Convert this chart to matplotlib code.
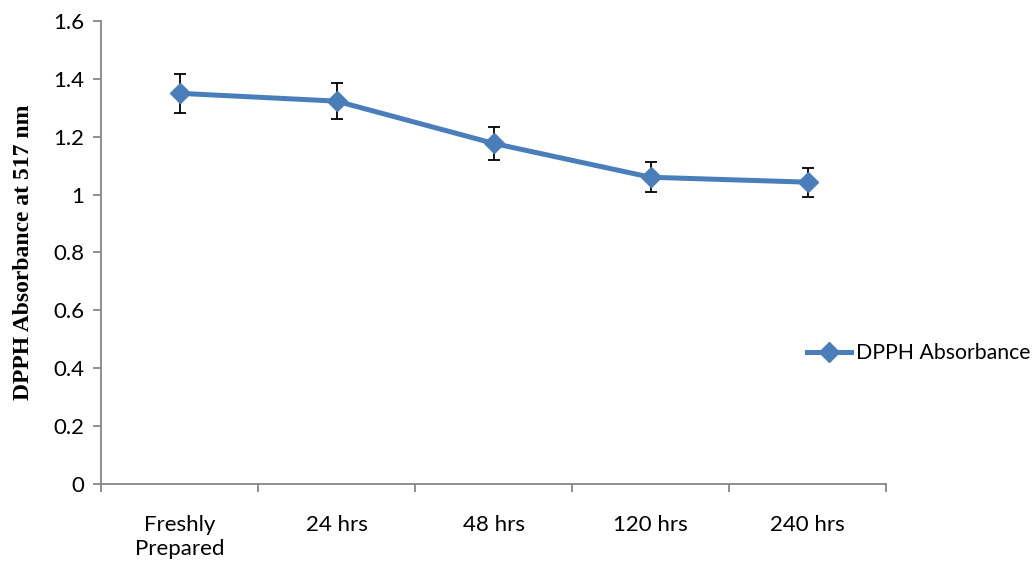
import matplotlib.pyplot as plt
import numpy as np

# ---- data ----
categories = ["Freshly\nPrepared", "24 hrs", "48 hrs", "120 hrs", "240 hrs"]
absorbance = [1.35, 1.323, 1.177, 1.060, 1.043]
abs_err = [0.068, 0.063, 0.058, 0.051, 0.050]

plt.rcParams['font.family'] = ['Lato', 'DejaVu Sans']

fig = plt.figure(figsize=(10.33, 5.61), dpi=100)
ax = fig.add_axes([0.0978, 0.1373, 0.7599, 0.8253])

x = np.arange(len(categories))
ax.errorbar(x, absorbance, yerr=abs_err, fmt='none', ecolor='black',
            elinewidth=1.3, capsize=4, capthick=1.3, zorder=2)
ax.plot(x, absorbance, color='#4a7ebb', lw=3.6, marker='D', markersize=10,
        label='DPPH Absorbance', zorder=3)

ax.set_xlim(-0.5, len(categories) - 0.5)
ax.set_ylim(0, 1.6)
ax.set_yticks(np.arange(0, 1.61, 0.2))
ax.set_yticklabels(['0', '0.2', '0.4', '0.6', '0.8', '1', '1.2', '1.4', '1.6'])

# category labels centred, tick marks at boundaries
ax.set_xticks(x)
ax.set_xticklabels(categories, fontsize=16, linespacing=1.3)
ax.set_xticks(np.arange(-0.5, len(categories), 1), minor=True)
ax.tick_params(axis='x', which='major', length=0, pad=22)
ax.tick_params(axis='x', which='minor', length=6, color='#868686', width=1.3)
ax.tick_params(axis='y', length=6, color='#868686', width=1.3, labelsize=16, pad=6)

for s in ['top', 'right']:
    ax.spines[s].set_visible(False)
for s in ['left', 'bottom']:
    ax.spines[s].set_color('#868686')
    ax.spines[s].set_linewidth(1.3)

ax.set_ylabel('DPPH Absorbance at 517 nm', fontsize=17, fontweight='bold',
              family=['Liberation Serif'], labelpad=14)

ax.legend(loc='center left', bbox_to_anchor=(0.899, 0.283), frameon=False,
          fontsize=15.3, handlelength=2.1, handletextpad=0.2,
          borderpad=0, borderaxespad=0)

fig.savefig('out.png', dpi=100)
